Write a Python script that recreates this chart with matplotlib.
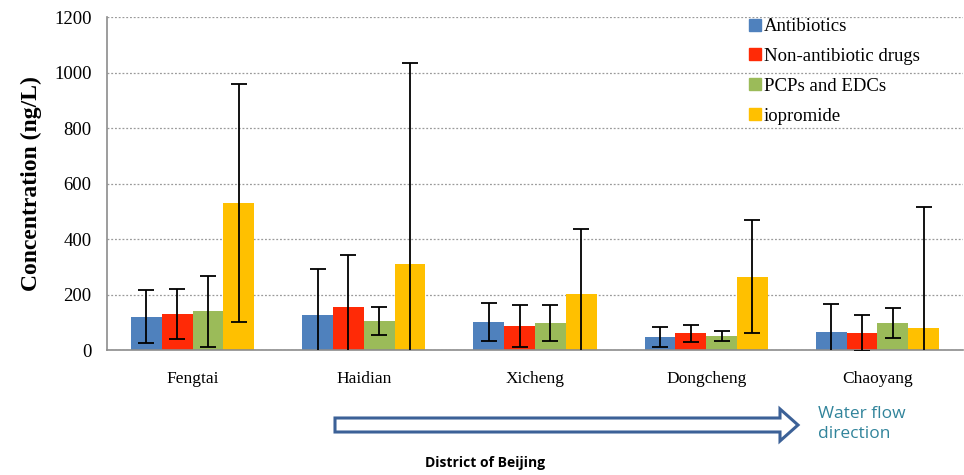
import matplotlib.pyplot as plt
import numpy as np
from matplotlib.patches import Polygon
from matplotlib.lines import Line2D

# concentraciones medias (ng/L) y desviaciones por distrito
distritos = ["Fengtai", "Haidian", "Xicheng", "Dongcheng", "Chaoyang"]
grupos = ["Antibiotics", "Non-antibiotic drugs", "PCPs and EDCs", "iopromide"]

antibioticos = [120, 126, 101, 47, 65]
no_antibioticos = [130, 155, 86, 61, 61]
pcps_edcs = [140, 104, 97, 50, 97]
iopromida = [530, 310, 202, 265, 79]

err_antibioticos = [96, 167, 69, 35, 102]
err_no_antibioticos = [90, 187, 75, 31, 66]
err_pcps_edcs = [128, 50, 66, 17, 53]
err_iopromida = [430, 724, 234, 205, 436]

colores = ["#4F81BD", "#FF2A06", "#9BBB59", "#FFC000"]

valores = [antibioticos, no_antibioticos, pcps_edcs, iopromida]
errores = [err_antibioticos, err_no_antibioticos, err_pcps_edcs, err_iopromida]

serif = ["Liberation Serif", "DejaVu Serif"]

fig = plt.figure(figsize=(9.64, 4.75), dpi=100)
ax = fig.add_axes([0.111, 0.263, 0.888, 0.701])

x = np.arange(len(distritos))
ancho = 0.18
for i, (vals, errs, col) in enumerate(zip(valores, errores, colores)):
    pos = x + (i - 1.5) * ancho
    ax.bar(pos, vals, width=ancho, color=col, zorder=2)
    ax.errorbar(pos, vals, yerr=errs, fmt='none', ecolor='black',
                elinewidth=1.3, capsize=5.5, capthick=1.3, zorder=3)

ax.set_xlim(-0.5, len(distritos) - 0.5)
ax.set_ylim(0, 1200)
ax.set_yticks(range(0, 1201, 200))
ax.set_xticks(x)
ax.set_xticklabels(distritos, fontfamily=serif, fontsize=12.5)
for lbl in ax.get_yticklabels():
    lbl.set_fontfamily(serif)
    lbl.set_fontsize(13.5)
ax.tick_params(axis='x', length=0, pad=15)
ax.tick_params(axis='y', length=0, pad=11)

ax.yaxis.grid(True, linestyle=(0, (1.5, 1.5)), color='#9A9A9A', linewidth=0.9, zorder=0)
ax.set_axisbelow(True)
for lado in ['top', 'right']:
    ax.spines[lado].set_visible(False)
for lado in ['left', 'bottom']:
    ax.spines[lado].set_color('#8C8C8C')
    ax.spines[lado].set_linewidth(1.2)

ax.set_ylabel("Concentration (ng/L)", fontfamily=serif, fontsize=17,
              fontweight='bold', labelpad=9)

# leyenda con marcadores cuadrados
handles = [Line2D([], [], marker='s', linestyle='none', markersize=8,
                  markerfacecolor=c, markeredgecolor=c) for c in colores]
ax.legend(handles, grupos, loc='upper left', bbox_to_anchor=(0.74, 1.02),
          frameon=False, prop={'family': serif, 'size': 13.5},
          handletextpad=0.15, labelspacing=0.68, handlelength=0.7,
          borderaxespad=0.0)

# flecha de direccion del agua (coordenadas en pulgadas de la figura)
H = 4.75
px = lambda xp, yp: (xp / 100, H - yp / 100)
puntos = [px(335, 418), px(780, 418), px(780, 409), px(798, 425),
          px(780, 441), px(780, 432), px(335, 432)]
flecha = Polygon(puntos, closed=True, facecolor='white', edgecolor='#3C6197',
                 linewidth=2.2, transform=fig.dpi_scale_trans)
fig.add_artist(flecha)

fig.text(818 / 964, 1 - 424 / 475, "Water flow\ndirection", color='#31849B',
         fontfamily='Open Sans', fontsize=12.5, va='center', ha='left',
         linespacing=1.4)
fig.text(485 / 964, 1 - 463 / 475, "District of Beijing", color='black',
         fontfamily='Open Sans', fontweight='bold', fontsize=10,
         ha='center', va='center')

fig.savefig("out.png", dpi=100)
